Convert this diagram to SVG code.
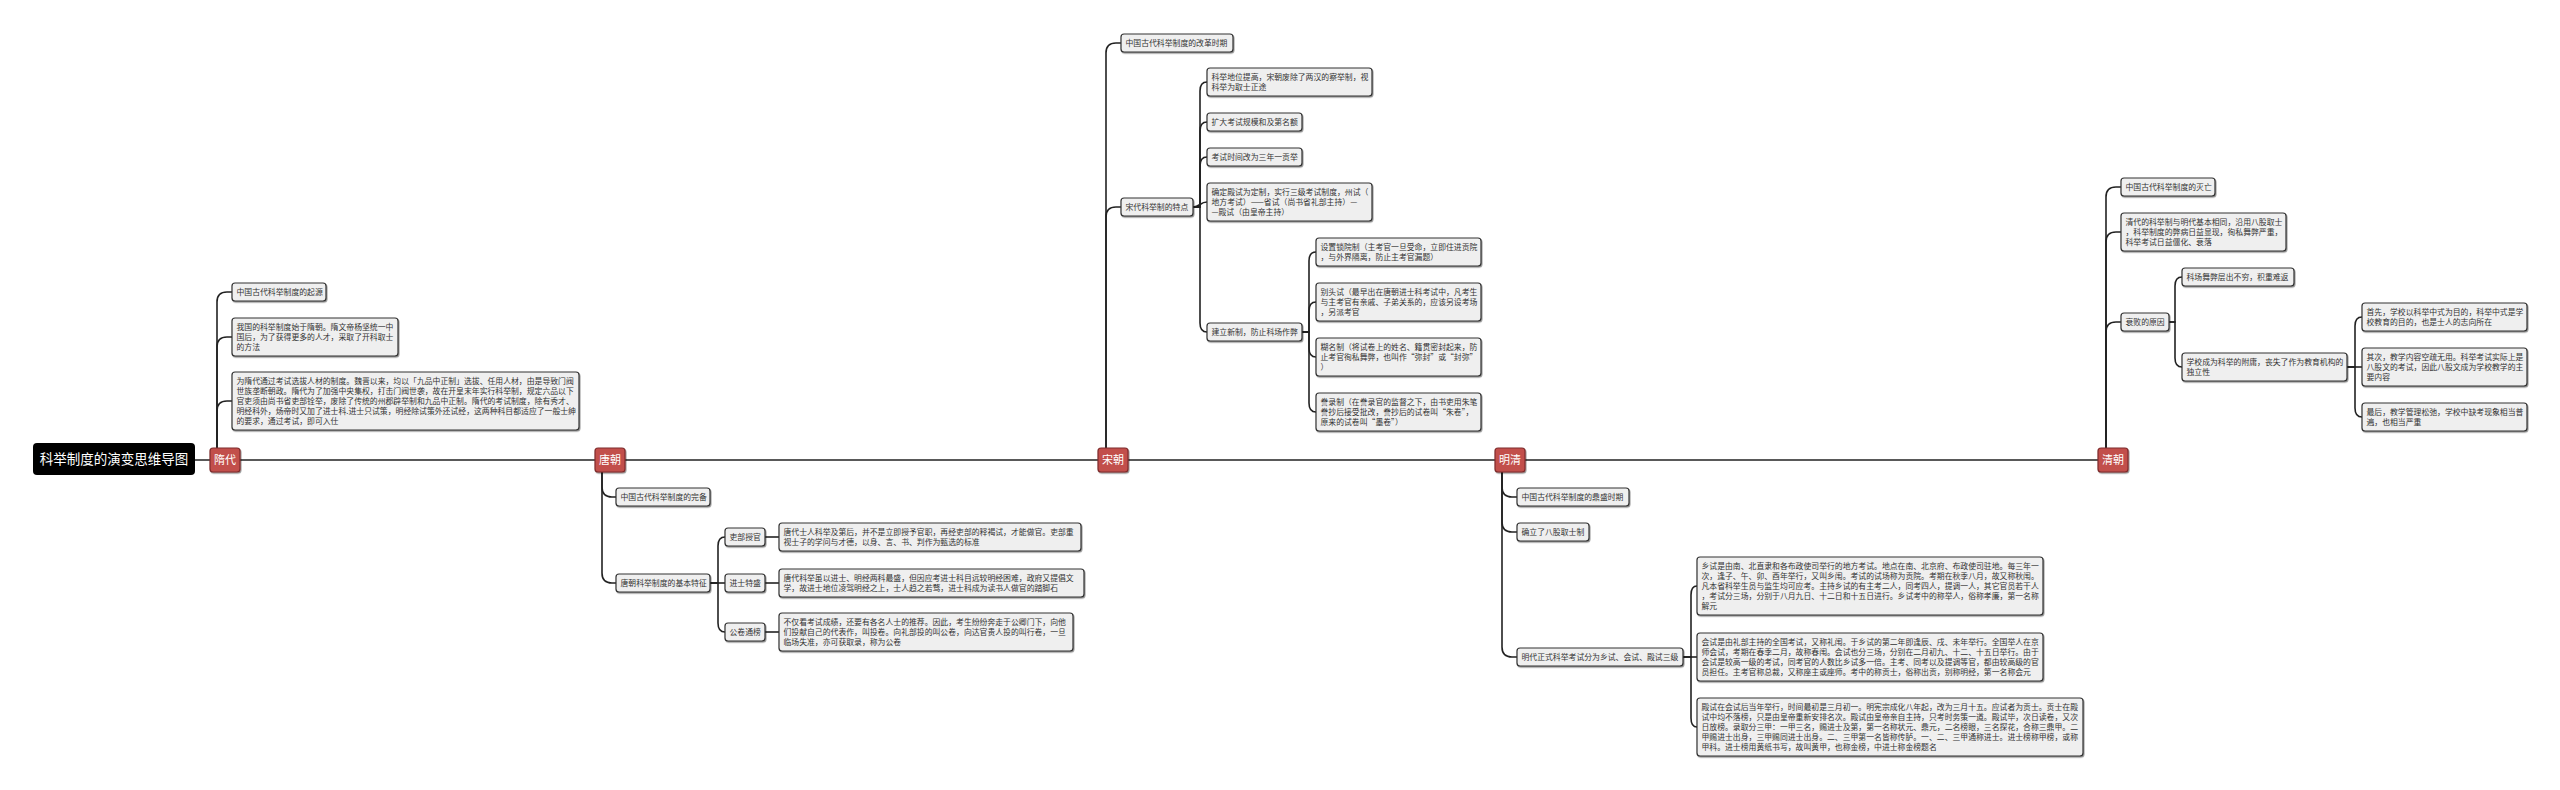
<svg xmlns="http://www.w3.org/2000/svg" width="2560" height="790" viewBox="0 0 2560 790">
<defs>
<filter id="sh" x="-5%" y="-20%" width="110%" height="150%">
<feDropShadow dx="0.8" dy="1.2" stdDeviation="0.5" flood-color="#000" flood-opacity="0.45"/>
</filter>
<style>
.bx{fill:#efefef;stroke:#333;stroke-width:1.2;filter:url(#sh)}
.t{font-family:"Noto Sans CJK SC","Microsoft YaHei",sans-serif;font-size:7.85px;fill:#333}
.era{fill:#c24f4c;stroke:#7e2c2c;stroke-width:1.2;filter:url(#sh)}
.et{font-family:"Noto Sans CJK SC","Microsoft YaHei",sans-serif;font-size:11px;fill:#fff;text-anchor:middle}
.rt{font-family:"Noto Sans CJK SC","Microsoft YaHei",sans-serif;font-size:13.5px;fill:#fff;text-anchor:middle}
.c{fill:none;stroke:#222;stroke-width:1.6}
</style>
</defs>
<rect width="2560" height="790" fill="#fff"/>

<g id="connectors" class="c">
<path d="M195 460 H2098"/>
<path d="M217 448 V302 Q217 292 227 292 H232"/>
<path d="M217 448 V347 Q217 337 227 337 H232"/>
<path d="M217 448 V411 Q217 401 227 401 H232"/>
<path d="M602 472 V487 Q602 497 612 497 H616"/>
<path d="M602 472 V573 Q602 583 612 583 H616"/>
<path d="M710 583 H718 V546 Q718 537 725 537"/>
<path d="M710 583 H725"/>
<path d="M710 583 H718 V623 Q718 632 725 632"/>
<path d="M765 537 H779"/>
<path d="M765 583 H779"/>
<path d="M765 632 H779"/>
<path d="M1106 448 V53 Q1106 43 1116 43 H1121"/>
<path d="M1106 448 V217 Q1106 207 1116 207 H1121"/>
<path d="M1193 207 H1200 V91 Q1200 82 1207 82"/>
<path d="M1193 207 H1200 V131 Q1200 122 1207 122"/>
<path d="M1193 207 H1200 V166 Q1200 157 1207 157"/>
<path d="M1193 207 C1200 207 1200 202 1207 202"/>
<path d="M1193 207 H1200 V323 Q1200 332 1207 332"/>
<path d="M1302 332 H1309 V261 Q1309 252 1316 252"/>
<path d="M1302 332 H1309 V311 Q1309 302 1316 302"/>
<path d="M1302 332 H1309 V348 Q1309 357 1316 357"/>
<path d="M1302 332 H1309 V403 Q1309 412 1316 412"/>
<path d="M1502 472 V487 Q1502 497 1512 497 H1517"/>
<path d="M1502 472 V522 Q1502 532 1512 532 H1517"/>
<path d="M1502 472 V647 Q1502 657 1512 657 H1517"/>
<path d="M1683 657 H1691 V595 Q1691 586 1697 586"/>
<path d="M1683 657 H1697"/>
<path d="M1683 657 H1691 V718 Q1691 727 1697 727"/>
<path d="M2106 448 V197 Q2106 187 2116 187 H2121"/>
<path d="M2106 448 V242 Q2106 232 2116 232 H2121"/>
<path d="M2106 448 V332 Q2106 322 2116 322 H2121"/>
<path d="M2169 322 H2175 V286 Q2175 277 2182 277"/>
<path d="M2169 322 H2175 V358 Q2175 367 2182 367"/>
<path d="M2347 367 H2355 V326 Q2355 317 2362 317"/>
<path d="M2347 367 H2362"/>
<path d="M2347 367 H2355 V408 Q2355 417 2362 417"/>
</g>

<g id="root">
<rect x="33" y="443" width="162" height="32" rx="4" fill="#000"/>
<text class="rt" x="114" y="464">科举制度的演变思维导图</text>
</g>

<g id="era-sui"><rect class="era" x="210" y="448" width="30" height="24" rx="3"/><text class="et" x="225" y="464">隋代</text></g>
<g id="era-tang"><rect class="era" x="595" y="448" width="30" height="24" rx="3"/><text class="et" x="610" y="464">唐朝</text></g>
<g id="era-song"><rect class="era" x="1098" y="448" width="30" height="24" rx="3"/><text class="et" x="1113" y="464">宋朝</text></g>
<g id="era-mingqing"><rect class="era" x="1495" y="448" width="30" height="24" rx="3"/><text class="et" x="1510" y="464">明清</text></g>
<g id="era-qing"><rect class="era" x="2098" y="448" width="30" height="24" rx="3"/><text class="et" x="2113" y="464">清朝</text></g>

<!-- 隋代 -->
<g id="sui-1"><rect class="bx" x="232" y="283" width="94" height="18" rx="3"/><text class="t"><tspan x="236.5" y="295">中国古代科举制度的起源</tspan></text></g>
<g id="sui-2"><rect class="bx" x="232" y="318" width="166" height="38" rx="3"/><text class="t"><tspan x="236.5" y="330">我国的科举制度始于隋朝。隋文帝杨坚统一中</tspan><tspan x="236.5" y="340">国后，为了获得更多的人才，采取了开科取士</tspan><tspan x="236.5" y="350">的方法</tspan></text></g>
<g id="sui-3"><rect class="bx" x="232" y="372" width="347" height="58" rx="3"/><text class="t"><tspan x="236.5" y="384">为隋代通过考试选拔人材的制度。魏晋以来，均以「九品中正制」选拔、任用人材，由是导致门阀</tspan><tspan x="236.5" y="394">世族垄断朝政。隋代为了加强中央集权，打击门阀世袭，故在开皇末年实行科举制，规定六品以下</tspan><tspan x="236.5" y="404">官吏须由尚书省吏部铨举，废除了传统的州郡辟举制和九品中正制。隋代的考试制度，除有秀才、</tspan><tspan x="236.5" y="414">明经科外，炀帝时又加了进士科.进士只试策，明经除试策外还试经，这两种科目都适应了一般士绅</tspan><tspan x="236.5" y="424">的要求，通过考试，即可入仕</tspan></text></g>

<!-- 唐朝 -->
<g id="tang-1"><rect class="bx" x="616" y="488" width="94" height="18" rx="3"/><text class="t"><tspan x="620.5" y="500">中国古代科举制度的完备</tspan></text></g>
<g id="tang-2"><rect class="bx" x="616" y="574" width="94" height="18" rx="3"/><text class="t"><tspan x="620.5" y="586">唐朝科举制度的基本特征</tspan></text></g>
<g id="tang-2a"><rect class="bx" x="725" y="528" width="40" height="18" rx="3"/><text class="t"><tspan x="729.5" y="540">吏部授官</tspan></text></g>
<g id="tang-2b"><rect class="bx" x="725" y="574" width="40" height="18" rx="3"/><text class="t"><tspan x="729.5" y="586">进士特盛</tspan></text></g>
<g id="tang-2c"><rect class="bx" x="725" y="623" width="40" height="18" rx="3"/><text class="t"><tspan x="729.5" y="635">公卷通榜</tspan></text></g>
<g id="tang-2a-1"><rect class="bx" x="779" y="523" width="302" height="28" rx="3"/><text class="t"><tspan x="783.5" y="535">唐代士人科举及第后，并不是立即授予官职，再经吏部的释褐试，才能做官。吏部重</tspan><tspan x="783.5" y="545">视士子的学问与才德，以身、言、书、判作为甄选的标准</tspan></text></g>
<g id="tang-2b-1"><rect class="bx" x="779" y="569" width="305" height="28" rx="3"/><text class="t"><tspan x="783.5" y="581">唐代科举虽以进士、明经两科最盛，但因应考进士科目远较明经困难，政府又提倡文</tspan><tspan x="783.5" y="591">学，故进士地位凌驾明经之上，士人趋之若骛，进士科成为读书人做官的踏脚石</tspan></text></g>
<g id="tang-2c-1"><rect class="bx" x="779" y="613" width="294" height="38" rx="3"/><text class="t"><tspan x="783.5" y="625">不仅看考试成绩，还要有各名人士的推荐。因此，考生纷纷奔走于公卿门下，向他</tspan><tspan x="783.5" y="635">们投献自己的代表作，叫投卷。向礼部投的叫公卷，向达官贵人投的叫行卷，一旦</tspan><tspan x="783.5" y="645">临场失准，亦可获取录，称为公卷</tspan></text></g>

<!-- 宋朝 -->
<g id="song-1"><rect class="bx" x="1121" y="34" width="112" height="18" rx="3"/><text class="t"><tspan x="1125.5" y="46">中国古代科举制度的改革时期</tspan></text></g>
<g id="song-2"><rect class="bx" x="1121" y="198" width="72" height="18" rx="3"/><text class="t"><tspan x="1125.5" y="210">宋代科举制的特点</tspan></text></g>
<g id="song-2a"><rect class="bx" x="1207" y="68" width="165" height="28" rx="3"/><text class="t"><tspan x="1211.5" y="80">科举地位提高，宋朝废除了两汉的察举制，视</tspan><tspan x="1211.5" y="90">科举为取士正途</tspan></text></g>
<g id="song-2b"><rect class="bx" x="1207" y="113" width="95" height="18" rx="3"/><text class="t"><tspan x="1211.5" y="125">扩大考试规模和及第名额</tspan></text></g>
<g id="song-2c"><rect class="bx" x="1207" y="148" width="95" height="18" rx="3"/><text class="t"><tspan x="1211.5" y="160">考试时间改为三年一贡举</tspan></text></g>
<g id="song-2d"><rect class="bx" x="1207" y="183" width="165" height="38" rx="3"/><text class="t"><tspan x="1211.5" y="195">确定殿试为定制，实行三级考试制度，州试（</tspan><tspan x="1211.5" y="205">地方考试）——省试（尚书省礼部主持）—</tspan><tspan x="1211.5" y="215">—殿试（由皇帝主持）</tspan></text></g>
<g id="song-2e"><rect class="bx" x="1207" y="323" width="95" height="18" rx="3"/><text class="t"><tspan x="1211.5" y="335">建立新制，防止科场作弊</tspan></text></g>
<g id="song-2e-1"><rect class="bx" x="1316" y="238" width="165" height="28" rx="3"/><text class="t"><tspan x="1320.5" y="250">设置锁院制（主考官一旦受命，立即住进贡院</tspan><tspan x="1320.5" y="260">，与外界隔离，防止主考官漏题）</tspan></text></g>
<g id="song-2e-2"><rect class="bx" x="1316" y="283" width="165" height="38" rx="3"/><text class="t"><tspan x="1320.5" y="295">别头试（最早出在唐朝进士科考试中，凡考生</tspan><tspan x="1320.5" y="305">与主考官有亲戚、子弟关系的，应该另设考场</tspan><tspan x="1320.5" y="315">，另派考官</tspan></text></g>
<g id="song-2e-3"><rect class="bx" x="1316" y="338" width="165" height="38" rx="3"/><text class="t"><tspan x="1320.5" y="350">糊名制（将试卷上的姓名、籍贯密封起来，防</tspan><tspan x="1320.5" y="360">止考官徇私舞弊，也叫作“弥封”或“封弥”</tspan><tspan x="1320.5" y="370">）</tspan></text></g>
<g id="song-2e-4"><rect class="bx" x="1316" y="393" width="165" height="38" rx="3"/><text class="t"><tspan x="1320.5" y="405">誊录制（在誊录官的监督之下，由书吏用朱笔</tspan><tspan x="1320.5" y="415">誊抄后接受批改，誊抄后的试卷叫“朱卷”，</tspan><tspan x="1320.5" y="425">原来的试卷叫“墨卷”）</tspan></text></g>

<!-- 明清 -->
<g id="ming-1"><rect class="bx" x="1517" y="488" width="112" height="18" rx="3"/><text class="t"><tspan x="1521.5" y="500">中国古代科举制度的鼎盛时期</tspan></text></g>
<g id="ming-2"><rect class="bx" x="1517" y="523" width="72" height="18" rx="3"/><text class="t"><tspan x="1521.5" y="535">确立了八股取士制</tspan></text></g>
<g id="ming-3"><rect class="bx" x="1517" y="648" width="166" height="18" rx="3"/><text class="t"><tspan x="1521.5" y="660">明代正式科举考试分为乡试、会试、殿试三级</tspan></text></g>
<g id="ming-3a"><rect class="bx" x="1697" y="557" width="346" height="58" rx="3"/><text class="t"><tspan x="1701.5" y="569">乡试是由南、北直隶和各布政使司举行的地方考试。地点在南、北京府、布政使司驻地。每三年一</tspan><tspan x="1701.5" y="579">次，逢子、午、卯、酉年举行，又叫乡闱。考试的试场称为贡院。考期在秋季八月，故又称秋闱。</tspan><tspan x="1701.5" y="589">凡本省科举生员与监生均可应考。主持乡试的有主考二人，同考四人，提调一人，其它官员若干人</tspan><tspan x="1701.5" y="599">，考试分三场，分别于八月九日、十二日和十五日进行。乡试考中的称举人，俗称孝廉，第一名称</tspan><tspan x="1701.5" y="609">解元</tspan></text></g>
<g id="ming-3b"><rect class="bx" x="1697" y="633" width="346" height="48" rx="3"/><text class="t"><tspan x="1701.5" y="645">会试是由礼部主持的全国考试，又称礼闱。于乡试的第二年即逢辰、戌、未年举行。全国举人在京</tspan><tspan x="1701.5" y="655">师会试，考期在春季二月，故称春闱。会试也分三场，分别在二月初九、十二、十五日举行。由于</tspan><tspan x="1701.5" y="665">会试是较高一级的考试，同考官的人数比乡试多一倍。主考、同考以及提调等官，都由较高级的官</tspan><tspan x="1701.5" y="675">员担任。主考官称总裁，又称座主或座师。考中的称贡士，俗称出贡，别称明经，第一名称会元</tspan></text></g>
<g id="ming-3c"><rect class="bx" x="1697" y="698" width="386" height="58" rx="3"/><text class="t"><tspan x="1701.5" y="710">殿试在会试后当年举行，时间最初是三月初一。明宪宗成化八年起，改为三月十五。应试者为贡士。贡士在殿</tspan><tspan x="1701.5" y="720">试中均不落榜，只是由皇帝重新安排名次。殿试由皇帝亲自主持，只考时务策一道。殿试毕，次日读卷，又次</tspan><tspan x="1701.5" y="730">日放榜。录取分三甲：一甲三名，赐进士及第，第一名称状元、鼎元，二名榜眼，三名探花，合称三鼎甲。二</tspan><tspan x="1701.5" y="740">甲赐进士出身，三甲赐同进士出身。二、三甲第一名皆称传胪。一、二、三甲通称进士。进士榜称甲榜，或称</tspan><tspan x="1701.5" y="750">甲科。进士榜用黄纸书写，故叫黄甲，也称金榜，中进士称金榜题名</tspan></text></g>

<!-- 清朝 -->
<g id="qing-1"><rect class="bx" x="2121" y="178" width="94" height="18" rx="3"/><text class="t"><tspan x="2125.5" y="190">中国古代科举制度的灭亡</tspan></text></g>
<g id="qing-2"><rect class="bx" x="2121" y="213" width="165" height="38" rx="3"/><text class="t"><tspan x="2125.5" y="225">清代的科举制与明代基本相同，沿用八股取士</tspan><tspan x="2125.5" y="235">，科举制度的弊病日益显现，徇私舞弊严重，</tspan><tspan x="2125.5" y="245">科举考试日益僵化、衰落</tspan></text></g>
<g id="qing-3"><rect class="bx" x="2121" y="313" width="48" height="18" rx="3"/><text class="t"><tspan x="2125.5" y="325">衰败的原因</tspan></text></g>
<g id="qing-3a"><rect class="bx" x="2182" y="268" width="112" height="18" rx="3"/><text class="t"><tspan x="2186.5" y="280">科场舞弊层出不穷，积重难返</tspan></text></g>
<g id="qing-3b"><rect class="bx" x="2182" y="353" width="165" height="28" rx="3"/><text class="t"><tspan x="2186.5" y="365">学校成为科举的附庸，丧失了作为教育机构的</tspan><tspan x="2186.5" y="375">独立性</tspan></text></g>
<g id="qing-3b-1"><rect class="bx" x="2362" y="303" width="165" height="28" rx="3"/><text class="t"><tspan x="2366.5" y="315">首先，学校以科举中式为目的，科举中式是学</tspan><tspan x="2366.5" y="325">校教育的目的，也是士人的志向所在</tspan></text></g>
<g id="qing-3b-2"><rect class="bx" x="2362" y="348" width="165" height="38" rx="3"/><text class="t"><tspan x="2366.5" y="360">其次，教学内容空疏无用。科举考试实际上是</tspan><tspan x="2366.5" y="370">八股文的考试，因此八股文成为学校教学的主</tspan><tspan x="2366.5" y="380">要内容</tspan></text></g>
<g id="qing-3b-3"><rect class="bx" x="2362" y="403" width="165" height="28" rx="3"/><text class="t"><tspan x="2366.5" y="415">最后，教学管理松弛，学校中缺考现象相当普</tspan><tspan x="2366.5" y="425">遍，也相当严重</tspan></text></g>
</svg>
